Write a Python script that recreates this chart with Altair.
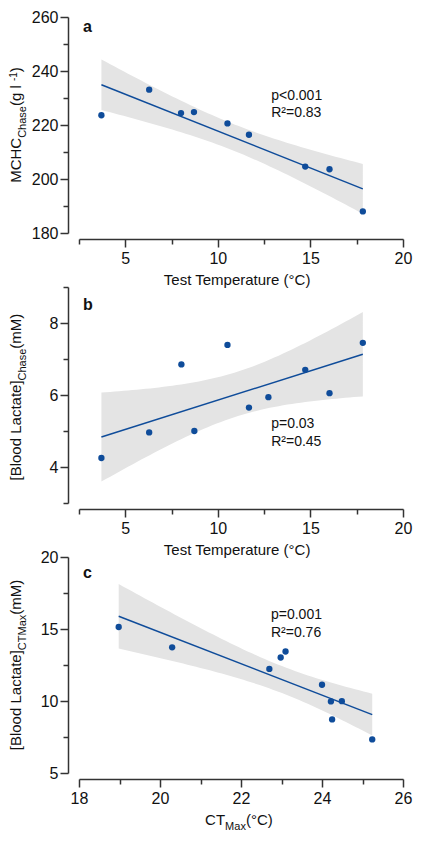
import numpy as np
import pandas as pd
import altair as alt

# ---------------- data ----------------
a_temp = [3.71, 6.29, 8.01, 8.71, 10.52, 11.68, 14.72, 16.03, 17.83]
a_mchc = [223.6, 233.1, 224.4, 224.8, 220.6, 216.4, 204.6, 203.6, 188.0]

b_temp = [3.71, 6.29, 8.03, 8.73, 10.52, 11.68, 12.73, 14.72, 16.03, 17.83]
b_lactate = [4.25, 4.96, 6.85, 5.00, 7.39, 5.65, 5.94, 6.70, 6.05, 7.45]

c_ctmax = [18.98, 20.30, 22.70, 22.98, 23.10, 24.00, 24.22, 24.25, 24.49, 25.24]
c_lactate = [15.14, 13.73, 12.23, 13.02, 13.44, 11.13, 9.97, 8.72, 9.99, 7.33]

# all tick positions / labelled tick positions
temp_ticks = [2.5, 5, 7.5, 10, 12.5, 15, 17.5, 20]
temp_labels = [5, 10, 15, 20]
mchc_ticks = [180, 190, 200, 210, 220, 230, 240, 250, 260]
mchc_labels = [180, 200, 220, 240, 260]
blc_ticks = [3, 4, 5, 6, 7, 8, 9]
blc_labels = [4, 6, 8]
ct_ticks = [18, 19, 20, 21, 22, 23, 24, 25, 26]
ct_labels = [18, 20, 22, 24, 26]
clc_ticks = [5, 7.5, 10, 12.5, 15, 17.5, 20]
clc_labels = [5, 10, 15, 20]

stats_a = ["p<0.001", "R\u00b2=0.83"]
stats_b = ["p=0.03", "R\u00b2=0.45"]
stats_c = ["p=0.001", "R\u00b2=0.76"]

# ---------------- styling ----------------
FONT = "Liberation Sans"
BLUE = "#0f4c9a"
BAND = "#e4e4e4"
AXIS = "#333333"
W, H = 324, 216

ARIAL = {" ": 278, "(": 333, ")": 333, "[": 278, "]": 278, "\u00b0": 400, "-": 333,
         ".": 278, "<": 584, "=": 584}
for d in "0123456789":
    ARIAL[d] = 556
for ch, w in zip("ABCDEFGHIJKLMNOPQRSTUVWXYZ",
                 [667, 667, 722, 722, 667, 611, 778, 722, 278, 500, 667, 556, 833,
                  722, 778, 667, 778, 722, 667, 611, 722, 667, 944, 667, 667, 611]):
    ARIAL[ch] = w
for ch, w in zip("abcdefghijklmnopqrstuvwxyz",
                 [556, 556, 500, 556, 556, 278, 556, 556, 222, 222, 500, 222, 833,
                  556, 556, 556, 556, 333, 500, 278, 556, 500, 722, 500, 500, 500]):
    ARIAL[ch] = w


def twidth(s, size):
    return sum(ARIAL.get(c, 556) for c in s) / 1000.0 * size


def band_frame(x, y, tcrit):
    x = np.asarray(x, float)
    y = np.asarray(y, float)
    n = len(x)
    slope, icpt = np.polyfit(x, y, 1)
    xs = np.linspace(x.min(), x.max(), 60)
    res = y - (icpt + slope * x)
    s = np.sqrt((res ** 2).sum() / (n - 2))
    sxx = ((x - x.mean()) ** 2).sum()
    se = s * np.sqrt(1.0 / n + (xs - x.mean()) ** 2 / sxx)
    fit = icpt + slope * xs
    return pd.DataFrame({"x": xs, "lo": fit - tcrit * se, "hi": fit + tcrit * se})


def one_row():
    return alt.Data(values=[{"k": 0}])


def ytitle_layers(pieces, base_x):
    total = sum(twidth(t, s) for t, s, _ in pieces)
    start = H / 2 + total / 2
    out = []
    cum = 0.0
    for t, s, shift in pieces:
        out.append(
            alt.Chart(one_row()).mark_text(
                text=t, angle=270, align="left", baseline="alphabetic",
                font=FONT, fontSize=s, color="#111111"
            ).encode(x=alt.value(base_x + shift), y=alt.value(start - cum))
        )
        cum += twidth(t, s)
    return out


def xtitle_layers(pieces, base_y):
    total = sum(twidth(t, s) for t, s, _ in pieces)
    start = W / 2 - total / 2
    out = []
    cum = 0.0
    for t, s, shift in pieces:
        out.append(
            alt.Chart(one_row()).mark_text(
                text=t, align="left", baseline="alphabetic",
                font=FONT, fontSize=s, color="#111111"
            ).encode(x=alt.value(start + cum), y=alt.value(base_y + shift))
        )
        cum += twidth(t, s)
    return out


def make_axis(ticks, labels, offset, pad):
    test = "indexof([" + ",".join(str(v) for v in labels) + "], datum.value) >= 0"
    return alt.Axis(
        values=ticks, title=None, offset=offset, labelPadding=pad, grid=False,
        labelOverlap=False, labelFlush=False,
        labelExpr=f"({test}) ? datum.label : ''",
        tickSize={"condition": {"test": test, "value": 8}, "value": 5},
    )


def panel(px, py, xdom, ydom, xticks, xlabels, yticks, ylabels, letter, letter_xy,
          stats, stats_xy, ytitle, xtitle, tcrit):
    pts = pd.DataFrame({"x": px, "y": py})
    xs = alt.Scale(domain=xdom, nice=False, zero=False)
    ys = alt.Scale(domain=ydom, nice=False, zero=False)
    xaxis = make_axis(xticks, xlabels, 6, 3)
    yaxis = make_axis(yticks, ylabels, 11, 2)
    band = alt.Chart(band_frame(px, py, tcrit)).mark_area(color=BAND, opacity=1).encode(
        x=alt.X("x:Q", scale=xs, axis=xaxis),
        y=alt.Y("lo:Q", scale=ys, axis=yaxis),
        y2="hi:Q",
    )
    line = alt.Chart(pts).transform_regression("x", "y").mark_line(
        color=BLUE, strokeWidth=1.5
    ).encode(x=alt.X("x:Q", axis=xaxis), y=alt.Y("y:Q", axis=yaxis))
    dots = alt.Chart(pts).mark_circle(size=40, color=BLUE, opacity=1).encode(
        x=alt.X("x:Q", axis=xaxis), y=alt.Y("y:Q", axis=yaxis)
    )
    ann = alt.Chart(pd.DataFrame({
        "x": [stats_xy[0], stats_xy[0]],
        "y": [stats_xy[1], stats_xy[2]],
        "t": stats,
    })).mark_text(align="left", baseline="alphabetic", font=FONT, fontSize=14,
                  color="#111111").encode(x=alt.X("x:Q", axis=xaxis), y=alt.Y("y:Q", axis=yaxis), text="t:N")
    let = alt.Chart(pd.DataFrame({"x": [letter_xy[0]], "y": [letter_xy[1]], "t": [letter]})).mark_text(
        align="left", baseline="alphabetic", font=FONT, fontSize=16, fontWeight="bold",
        color="#111111").encode(x=alt.X("x:Q", axis=xaxis), y=alt.Y("y:Q", axis=yaxis), text="t:N")
    layers = [band, line, dots, ann, let] + ytitle_layers(ytitle, -58) + xtitle_layers(xtitle, H + 52)
    return alt.layer(*layers).properties(width=W, height=H)


pa = panel(a_temp, a_mchc, [2.5, 20], [180, 260], temp_ticks, temp_labels, mchc_ticks, mchc_labels,
           "a", (2.71, 254.4), stats_a, (12.88, 229.2, 222.9),
           [("MCHC", 15, 0), ("Chase", 11, 5), (" (g l", 15, 0), ("-1", 10, -4), (")", 15, 0)],
           [("Test Temperature  (\u00b0C)", 15, 0)], 2.365)

pb = panel(b_temp, b_lactate, [2.5, 20], [3, 9], temp_ticks, temp_labels, blc_ticks, blc_labels,
           "b", (2.71, 8.36), stats_b, (12.88, 5.08, 4.59),
           [("[Blood Lactate]", 15, 0), ("Chase", 11, 5), (" (mM)", 15, 0)],
           [("Test Temperature  (\u00b0C)", 15, 0)], 2.306)

pc = panel(c_ctmax, c_lactate, [18, 26], [5, 20], ct_ticks, ct_labels, clc_ticks, clc_labels,
           "c", (18.1, 18.55), stats_c, (22.74, 15.70, 14.47),
           [("[Blood Lactate]", 15, 0), ("CTMax", 11, 5), ("(mM)", 15, 0)],
           [("CT", 15, 0), ("Max", 11, 5), (" (\u00b0C)", 15, 0)], 2.306)

chart = alt.vconcat(pa, pb, pc, spacing=54, bounds="flush").properties(
    padding={"left": 0, "top": 0, "right": 0, "bottom": 0}
).configure_view(stroke="transparent").configure_axis(
    domainColor=AXIS, domainWidth=1.5, tickColor=AXIS, tickWidth=1.5,
    labelFont=FONT, labelFontSize=16, labelColor="#111111",
)

chart.save("out.html", embed_options={"renderer": "svg", "actions": False})
